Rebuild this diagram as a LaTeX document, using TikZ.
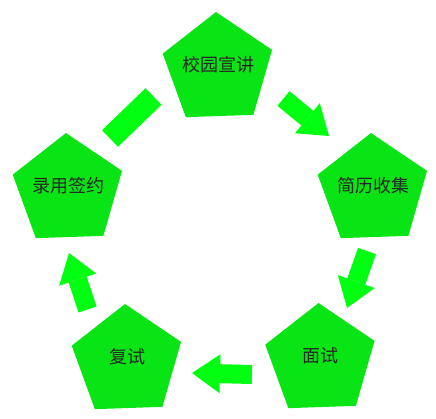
\documentclass[tikz,border=0pt]{standalone}
\usepackage{fontspec}
\newfontfamily\cjk{Noto Sans CJK SC}
\usepackage{xcolor}
\usepackage{tikz}
\usetikzlibrary{shapes.geometric, arrows.meta}
\definecolor{stagegreen}{RGB}{8,228,20}
\definecolor{flowgreen}{RGB}{0,255,17}
\newcommand{\stagetext}[1]{\raisebox{-2pt}[0pt][0pt]{\makebox[0pt]{#1}}}

\begin{document}
\begin{tikzpicture}[x=1pt,y=-1pt,
	stage/.style={regular polygon, regular polygon sides=5, regular polygon rotate=2,
		minimum size=115pt, inner sep=0pt, outer sep=0pt, fill=stagegreen,
		font=\cjk\fontsize{18}{18}\selectfont, text=black!85},
	flow/.style={flowgreen, line width=19pt, -{Triangle[length=28pt,width=39pt,line width=0pt]}},
	link/.style={flowgreen, line width=23pt}]
\useasboundingbox (0,0) rectangle (436,418);

\node(xy)[stage] at (218,69.5) {\stagetext{校园宣讲}};
\node(jl)[stage] at (373,190.5) {\stagetext{简历收集}};
\node(ms)[stage] at (320.5,360.5) {\stagetext{面试}};
\node(fs)[stage] at (127,361.5) {\stagetext{复试}};
\node(qy)[stage] at (68,190.5) {\stagetext{录用签约}};

\coordinate(xyjl) at (283.5,98.5);	\coordinate(jlxy) at (329,136);
\coordinate(jlms) at (367,251);	\coordinate(msjl) at (347,308);
\coordinate(msfs) at (252,374.5);	\coordinate(fsms) at (192,373);
\coordinate(fsqy) at (87.5,309.5);	\coordinate(qyfs) at (69,253);
\coordinate(qyxy) at (110,138.5);	\coordinate(xyqy) at (153.5,96.5);

\draw[flow] (xyjl) -- (jlxy);
\draw[flow] (jlms) -- (msjl);
\draw[flow] (msfs) -- (fsms);
\draw[flow] (fsqy) -- (qyfs);
\draw[link] (qyxy) -- (xyqy);
\end{tikzpicture}
\end{document}
